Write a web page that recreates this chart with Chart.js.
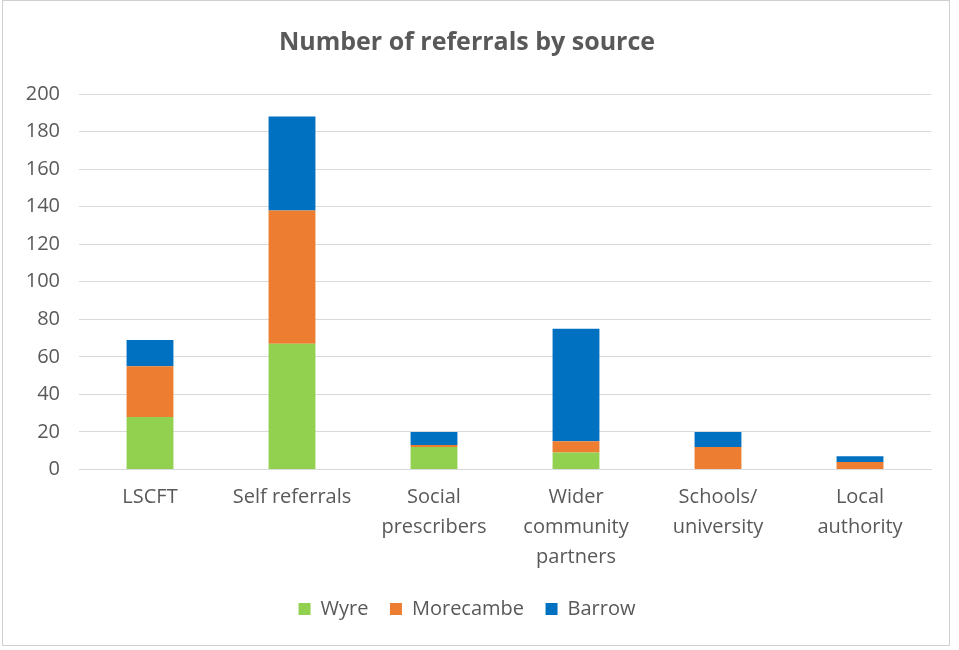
<!DOCTYPE html>
<html>
<head>
<meta charset="utf-8">
<script src="https://cdn.jsdelivr.net/npm/chart.js@4/dist/chart.umd.min.js"></script>
<style>
    html, body { margin: 0; padding: 0; background: #fff; }
    #wrap {
        position: absolute; left: 2px; top: 0; width: 948px; height: 646px;
        border: 1px solid #d0d0d0; box-sizing: border-box; background: #fff;
    }
</style>
</head>
<body>
<div id="wrap"><canvas id="chart"></canvas></div>
<script>
const categories = [
    'LSCFT',
    'Self referrals',
    ['Social', 'prescribers'],
    ['Wider', 'community', 'partners'],
    ['Schools/', 'university'],
    ['Local', 'authority'],
];
const wyre = [28, 67, 12, 9, 0, 0];
const morecambe = [27, 71, 1, 6, 12, 4];
const barrow = [14, 50, 7, 60, 8, 3];

const COLORS = {
    Wyre: '#92d050',
    Morecambe: '#ed7d31',
    Barrow: '#0070c0',
};

const FONT = "'Open Sans', 'Liberation Sans', sans-serif";
const TEXT = '#595959';

function series(label, data) {
    return {
        label,
        data,
        backgroundColor: COLORS[label],
        borderWidth: 0,
        barPercentage: 0.33,
        categoryPercentage: 1,
    };
}

new Chart(document.getElementById('chart'), {
    type: 'bar',
    data: {
        labels: categories,
        datasets: [
            series('Wyre', wyre),
            series('Morecambe', morecambe),
            series('Barrow', barrow),
        ]
    },
    options: {
        responsive: true,
        maintainAspectRatio: false,
        animation: false,
        layout: { padding: { left: 0, right: 18, top: 10, bottom: 16 } },
        plugins: {
            title: {
                display: true,
                text: 'Number of referrals by source',
                color: TEXT,
                font: { family: FONT, size: 25, weight: 'bold' },
                padding: { top: 17, bottom: 36 },
            },
            legend: {
                position: 'bottom',
                labels: {
                    color: TEXT,
                    boxWidth: 12,
                    boxHeight: 12,
                    padding: 21.5,
                    font: { family: FONT, size: 20 },
                },
            },
            tooltip: { enabled: false },
        },
        scales: {
            x: {
                stacked: true,
                grid: { display: false },
                border: { color: '#d9d9d9' },
                ticks: {
                    color: TEXT,
                    maxRotation: 0,
                    autoSkip: false,
                    padding: 5,
                    font: { family: FONT, size: 20, lineHeight: 1.5 },
                },
            },
            y: {
                stacked: true,
                min: 0,
                max: 200,
                afterFit: axis => { axis.width = 76; },
                grid: { color: '#d9d9d9', drawTicks: false },
                border: { display: false },
                ticks: {
                    stepSize: 20,
                    color: TEXT,
                    padding: 19,
                    font: { family: FONT, size: 20 },
                },
            },
        },
    },
});
</script>
</body>
</html>
